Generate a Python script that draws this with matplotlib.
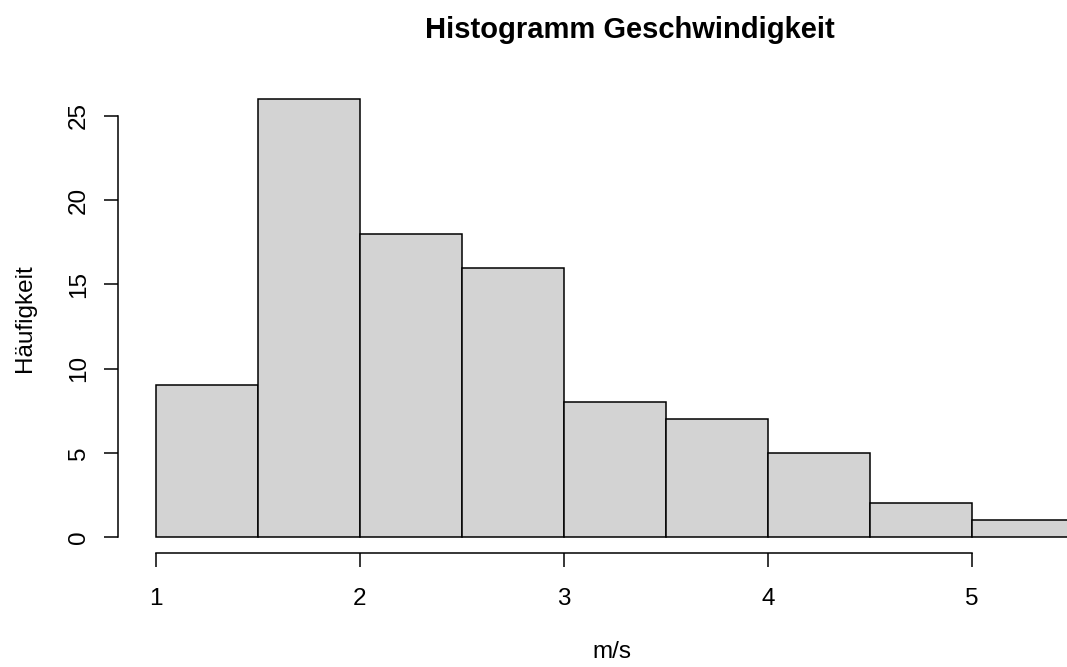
import matplotlib.pyplot as plt

plt.rcParams["font.family"] = ["Liberation Sans", "DejaVu Sans"]

# Klassengrenzen und Häufigkeiten
bin_left = [1.0, 1.5, 2.0, 2.5, 3.0, 3.5, 4.0, 4.5, 5.0]
counts = [9, 26, 18, 16, 8, 7, 5, 2, 1]
bin_width = 0.5
x_ticks = [1, 2, 3, 4, 5]
y_ticks = [0, 5, 10, 15, 20, 25]

W, H = 1067, 667
fig = plt.figure(figsize=(W / 100, H / 100), dpi=100)

# Achsenbereich in Pixeln
left, right, bottom, top = 118, 1067, 553, 90
ax = fig.add_axes([left / W, (H - bottom) / H, (right - left) / W, (bottom - top) / H])

ax.bar(bin_left, counts, width=bin_width, align="edge",
       color="#d3d3d3", edgecolor="black", linewidth=1.1)

ax.set_xlim(0.8137, 5.466)
ax.set_ylim(-0.95, 26.54)

for s in ["top", "right"]:
    ax.spines[s].set_visible(False)
ax.spines["left"].set_bounds(0, 25)
ax.spines["bottom"].set_bounds(1, 5)
ax.spines["left"].set_linewidth(1.1)
ax.spines["bottom"].set_linewidth(1.1)

ax.set_xticks(x_ticks)
ax.set_yticks(y_ticks)
ax.tick_params(axis="x", length=10, width=1.1, pad=15, labelsize=17.5)
ax.tick_params(axis="y", length=10, width=1.1, pad=10, labelsize=17.5, labelrotation=90)
for lbl in ax.get_yticklabels():
    lbl.set_va("center")

fig.text(630 / W, 1 - 30 / H, "Histogramm Geschwindigkeit", ha="center", va="center",
         fontsize=21, fontweight="bold")
fig.text(612 / W, 1 - 652 / H, "m/s", ha="center", va="center", fontsize=17.5)
fig.text(25 / W, 1 - 318 / H, "Häufigkeit", ha="center", va="center",
         rotation=90, fontsize=17.5)

fig.savefig("out.png", dpi=100)
